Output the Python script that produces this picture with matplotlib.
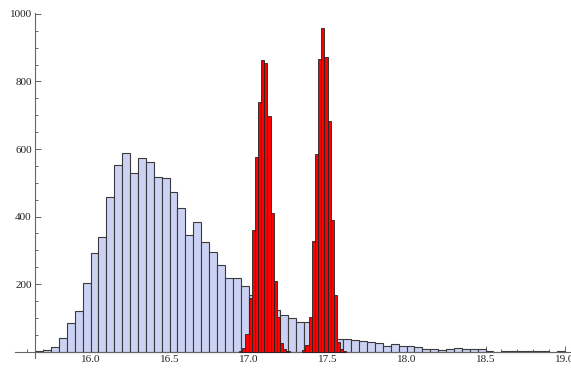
import numpy as np
import matplotlib.pyplot as plt
from matplotlib.ticker import MultipleLocator, FixedLocator

# broad distribution, bins of 0.05 starting at 15.65
blue_start = 15.65
blue_width = 0.05
blue_counts = [2, 6, 13, 39, 84, 121, 202, 293, 339, 457, 553, 587, 530, 573,
               563, 518, 514, 473, 426, 345, 383, 324, 296, 257, 218, 218, 195,
               167, 155, 140, 123, 108, 98, 88, 88, 80, 70, 55, 37, 38, 34, 30,
               27, 26, 16, 23, 17, 16, 14, 8, 8, 6, 8, 11, 9, 7, 7, 3,
               0, 1, 1, 1, 1, 1, 1, 0, 1]

# two narrow peaks, bins of 0.02
red_width = 0.02
red1_start = 16.94
red1_counts = [2, 12, 52, 158, 359, 576, 738, 863, 855, 699, 410, 210, 103, 24, 9, 1]
red2_start = 17.34
red2_counts = [4, 19, 101, 328, 586, 867, 959, 872, 682, 390, 168, 27, 9, 2]

blue_edges = blue_start + blue_width * np.arange(len(blue_counts))
red1_edges = red1_start + red_width * np.arange(len(red1_counts))
red2_edges = red2_start + red_width * np.arange(len(red2_counts))

plt.rcParams['font.family'] = ['Liberation Serif', 'DejaVu Serif']

fig = plt.figure(figsize=(5.71, 3.69), dpi=100, facecolor='w')
ax = fig.add_axes([15/571, 11/369, 556/571, 344.7/369])

ax.bar(blue_edges, blue_counts, width=blue_width, align='edge',
       color='#ccd2f3', edgecolor='#3a3a3a', linewidth=0.8, zorder=2)
ax.bar(red1_edges, red1_counts, width=red_width, align='edge',
       color='#ff0000', edgecolor='#222222', linewidth=0.6, zorder=3)
ax.bar(red2_edges, red2_counts, width=red_width, align='edge',
       color='#ff0000', edgecolor='#222222', linewidth=0.6, zorder=3)

ax.set_xlim(15.522, 19.041)
ax.set_ylim(-19, 1002)

# Mathematica style axes crossing at (15.65, 0)
for s in ['top', 'right']:
    ax.spines[s].set_visible(False)
ax.spines['left'].set_position(('data', 15.65))
ax.spines['bottom'].set_position(('data', 0))
for s in ['left', 'bottom']:
    ax.spines[s].set_color('#666666')
    ax.spines[s].set_linewidth(0.8)

ax.xaxis.set_major_locator(FixedLocator([16.0, 16.5, 17.0, 17.5, 18.0, 18.5, 19.0]))
ax.xaxis.set_minor_locator(MultipleLocator(0.1))
ax.yaxis.set_major_locator(FixedLocator([200, 400, 600, 800, 1000]))
ax.yaxis.set_minor_locator(MultipleLocator(50))
ax.set_xticklabels(['16.0', '16.5', '17.0', '17.5', '18.0', '18.5', '19.0'])

ax.tick_params(which='both', direction='in', color='#666666', labelsize=8,
               labelcolor='#222222', width=0.7)
ax.tick_params(which='major', length=4.5, pad=2.5)
ax.tick_params(which='minor', length=2.5)

fig.savefig('out.png', dpi=100)
